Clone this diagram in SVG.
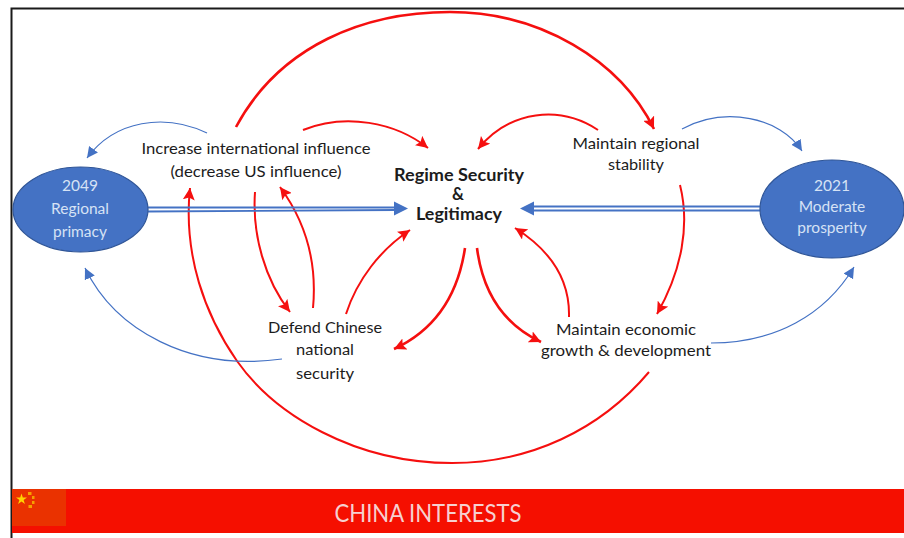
<svg xmlns="http://www.w3.org/2000/svg" width="904" height="538" viewBox="0 0 904 538">
<style>
text{font-family:Lato,"Open Sans","Liberation Sans",sans-serif;text-anchor:middle}
.k{fill:#1c1c1c;font-size:16px}
.b{fill:#1c1c1c;font-size:16.5px;font-weight:700}
.w{fill:#d6e2f5;font-size:15.5px}
.n{fill:#4472c4;stroke:#2f5597;stroke-width:1.2}
.r,.t,.u,.h,.d{fill:none}
.r{stroke:#f50f0f;stroke-width:2;marker-end:url(#ar)}
.t{stroke:#f50f0f;stroke-width:2.6;marker-end:url(#ar)}
.u{stroke:#4472c4;stroke-width:1.2;marker-end:url(#ab)}
.d{stroke:#4472c4;stroke-width:1.8}
</style>
<defs>
<marker id="ar" markerUnits="userSpaceOnUse" markerWidth="13" markerHeight="12" refX="12" refY="6" orient="auto"><path d="M0 0L12 6L0 12L2.5 6Z" fill="#f50f0f"/></marker>
<marker id="ab" markerUnits="userSpaceOnUse" markerWidth="12" markerHeight="12" refX="11" refY="5.5" orient="auto"><path d="M0 0L11 5.500L0 11Z" fill="#4472c4"/></marker>
</defs>
<rect width="904" height="538" fill="#fff"/>
<path d="M11.500 538V8.500H904" fill="none" stroke="#1a1a1a" stroke-width="2"/>
<g id="banner">
<rect x="12" y="489" width="892" height="44" fill="#f50f00"/>
<rect x="12" y="489" width="54" height="37" fill="#ea3200"/>
<path d="M21.500 493.500l1.300 4h4.200l-3.400 2.500 1.300 4-3.400-2.500-3.400 2.500 1.300-4-3.400-2.500h4.200z" fill="#ffd400"/>
<g fill="#f5a000"><rect x="28" y="492" width="3.500" height="3"/><rect x="32" y="496" width="2.500" height="3"/><rect x="32" y="501" width="2.500" height="3"/><rect x="28.500" y="505" width="3.500" height="3"/></g>
<text x="428" y="522" fill="#f6d0d0" font-size="25" textLength="187" lengthAdjust="spacingAndGlyphs">CHINA INTERESTS</text>
</g>
<g id="connectors">
<path class="t" d="M236 127C280 45 365 12 450 12C540 12 620 60 654 129"/>
<path class="r" d="M649 372C600 430 530 463 452 463C355 463 275 415 237 361C205 315 183 255 190 188"/>
<path class="u" d="M207 133C165 113 115 120 87 158"/>
<path class="r" d="M303 130C345 113 395 122 428 148"/>
<path class="r" d="M598 130C560 105 510 110 478 149"/>
<path class="u" d="M682 129C725 106 780 117 802 151"/>
<path class="r" d="M680 185C690 225 682 270 657 314"/>
<path class="r" d="M255 192C252 235 265 280 290 312"/>
<path class="r" d="M313 308C317 265 308 225 280 187"/>
<path class="r" d="M346 314C357 280 380 250 410 230"/>
<path class="t" d="M465 248C458 295 435 330 394 349"/>
<path class="t" d="M477 248C483 295 505 325 541 342"/>
<path class="r" d="M569 317C570 280 550 250 515 228"/>
<path class="u" d="M282 359C190 372 115 330 85 268"/>
<path class="u" d="M711 343C775 343 825 315 854 267"/>
<path class="d" d="M148 207.500H395M148 211.500L395 210"/>
<path d="M408 208.500L394 201.500V215.500Z" fill="#4472c4"/>
<path class="d" d="M760 206.500H534M760 210.500H534"/>
<path d="M520 208.500L534 201.500V215.500Z" fill="#4472c4"/>
</g>
<g id="n2049"><ellipse class="n" cx="80.500" cy="209.500" rx="67.500" ry="42.500"/>
<text class="w" x="80" y="191">2049</text><text class="w" x="80" y="214">Regional</text><text class="w" x="80" y="237">primacy</text></g>
<g id="n2021"><ellipse class="n" cx="832" cy="209" rx="72" ry="49"/>
<text class="w" x="832" y="191">2021</text><text class="w" x="832" y="212">Moderate</text><text class="w" x="832" y="233">prosperity</text></g>
<g id="regime"><text class="b" x="459" y="181" textLength="130" lengthAdjust="spacingAndGlyphs">Regime Security</text><text class="b" x="458" y="200">&amp;</text><text class="b" x="459" y="220" textLength="86" lengthAdjust="spacingAndGlyphs">Legitimacy</text></g>
<g id="influence"><text class="k" x="256" y="154" textLength="229" lengthAdjust="spacingAndGlyphs">Increase international influence</text><text class="k" x="256" y="177" textLength="171" lengthAdjust="spacingAndGlyphs">(decrease US influence)</text></g>
<g id="stability"><text class="k" x="636" y="149" textLength="127" lengthAdjust="spacingAndGlyphs">Maintain regional</text><text class="k" x="636" y="170" textLength="56" lengthAdjust="spacingAndGlyphs">stability</text></g>
<g id="defend"><text class="k" x="325" y="333" textLength="114" lengthAdjust="spacingAndGlyphs">Defend Chinese</text><text class="k" x="325" y="355" textLength="58" lengthAdjust="spacingAndGlyphs">national</text><text class="k" x="325" y="379" textLength="58" lengthAdjust="spacingAndGlyphs">security</text></g>
<g id="economic"><text class="k" x="626" y="335" textLength="140" lengthAdjust="spacingAndGlyphs">Maintain economic</text><text class="k" x="626" y="356" textLength="170" lengthAdjust="spacingAndGlyphs">growth &amp; development</text></g>
</svg>
